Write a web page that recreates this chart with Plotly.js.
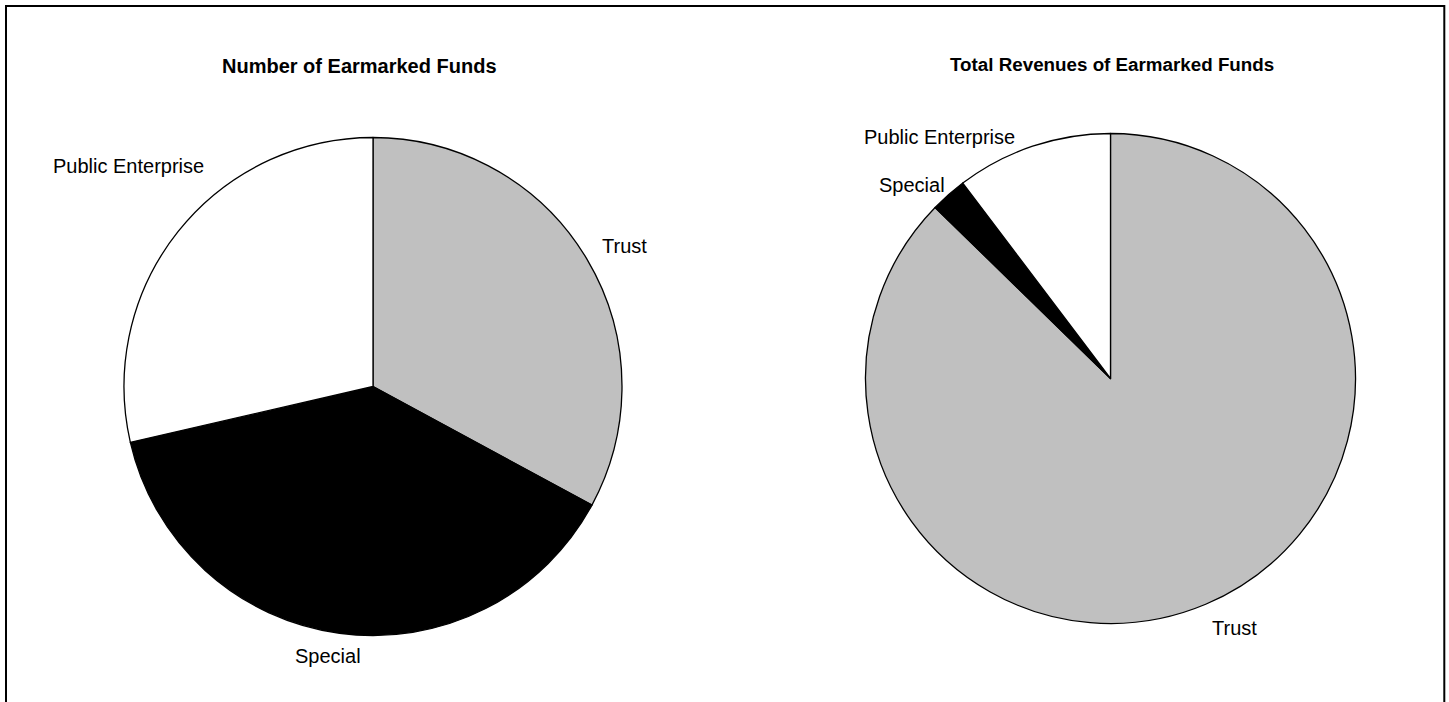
<!DOCTYPE html>
<html>
<head>
<meta charset="utf-8">
<script src="https://cdn.plot.ly/plotly-3.0.1.min.js"></script>
<style>
  html, body { margin: 0; padding: 0; background: #fff; }
  #chart { width: 1449px; height: 702px; }
</style>
</head>
<body>
<div id="chart"></div>
<script>
// ---- Data ----
const categories = ["Trust", "Special", "Public Enterprise"];
const numberShares = [32.9, 38.5, 28.6];      // % of number of earmarked funds
const revenueShares = [87.3, 2.4, 10.3];      // % of total revenues of earmarked funds
const chartTitles = ["Number of Earmarked Funds", "Total Revenues of Earmarked Funds"];
const sliceColors = ["#C0C0C0", "#000000", "#FFFFFF"];

// ---- Layout helpers (pixel -> paper) ----
const W = 1449, H = 702;
const px = x => x / W;
const py = y => 1 - y / H;

function pieTrace(values, cx, cy, r) {
  return {
    type: "pie",
    labels: categories,
    values: values,
    sort: false,
    direction: "clockwise",
    rotation: 0,
    textinfo: "none",
    hoverinfo: "label+percent",
    showlegend: false,
    marker: { colors: sliceColors, line: { color: "#000", width: 1.3 } },
    domain: { x: [px(cx - r), px(cx + r)], y: [py(cy + r), py(cy - r)] }
  };
}

const traces = [
  pieTrace(numberShares, 373, 386.5, 249),
  pieTrace(revenueShares, 1110.5, 378.5, 245)
];

const labelFont = { family: "Liberation Sans, Arial, sans-serif", size: 20, color: "#000" };
const titleFont = { family: "Liberation Sans, Arial, sans-serif", color: "#000", weight: 700 };

// label anchor positions (pixels) for each pie, in category order
const leftLabelPos = [[624, 246], [328, 656], [128, 166]];
const rightLabelPos = [[1234, 628], [912, 185], [939, 137]];

const annotations = [];
categories.forEach((c, i) => {
  annotations.push({ text: c, x: px(leftLabelPos[i][0]), y: py(leftLabelPos[i][1]),
    xref: "paper", yref: "paper", xanchor: "center", yanchor: "middle", showarrow: false, font: labelFont });
  annotations.push({ text: c, x: px(rightLabelPos[i][0]), y: py(rightLabelPos[i][1]),
    xref: "paper", yref: "paper", xanchor: "center", yanchor: "middle", showarrow: false, font: labelFont });
});
annotations.push({ text: "<b>" + chartTitles[0] + "</b>", x: px(359), y: py(66),
  xref: "paper", yref: "paper", xanchor: "center", yanchor: "middle", showarrow: false,
  font: Object.assign({}, titleFont, { size: 20 }) });
annotations.push({ text: "<b>" + chartTitles[1] + "</b>", x: px(1111.5), y: py(64),
  xref: "paper", yref: "paper", xanchor: "center", yanchor: "middle", showarrow: false,
  font: Object.assign({}, titleFont, { size: 18.8 }) });

const layout = {
  width: W, height: H,
  margin: { l: 0, r: 0, t: 0, b: 0 },
  paper_bgcolor: "#fff",
  plot_bgcolor: "#fff",
  annotations: annotations,
  shapes: [{
    type: "rect", xref: "paper", yref: "paper",
    x0: px(6), x1: px(1444.3), y0: py(720), y1: py(6),
    line: { color: "#000", width: 2 }, fillcolor: "rgba(0,0,0,0)"
  }]
};

Plotly.newPlot("chart", traces, layout, { displayModeBar: false, staticPlot: true });
</script>
</body>
</html>
